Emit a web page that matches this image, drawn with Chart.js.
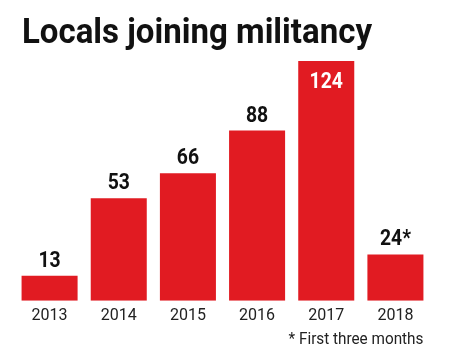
<!DOCTYPE html>
<html><head><meta charset="utf-8">
<script src="https://cdn.jsdelivr.net/npm/chart.js@4.4.1/dist/chart.umd.min.js"></script>
<style>html,body{margin:0;padding:0;background:#fff}canvas{display:block}</style>
</head><body>
<canvas id="c" width="450" height="360"></canvas>
<script>
const categories = ['2013','2014','2015','2016','2017','2018'];
const values = [13, 53, 66, 88, 124, 24];
const valueLabels = ['13','53','66','88','124','24*'];
const titleText = 'Locals joining militancy';
const footnote = '* First three months';

function condensedText(ctx, text, x, y, font, scaleX, align) {
  ctx.save();
  ctx.font = font;
  ctx.textBaseline = 'alphabetic';
  ctx.textAlign = 'left';
  const w = ctx.measureText(text).width * scaleX;
  let left = x;
  if (align === 'center') left = x - w / 2;
  else if (align === 'right') left = x - w;
  ctx.translate(left, y);
  ctx.scale(scaleX, 1);
  ctx.fillText(text, 0, 0);
  ctx.restore();
}

const textPlugin = {
  id: 'texts',
  afterDatasetsDraw(chart) {
    const ctx = chart.ctx;
    const meta = chart.getDatasetMeta(0);
    // title, fitted to its width in the reference
    ctx.save();
    ctx.font = 'bold 35px Roboto, sans-serif';
    const tw = ctx.measureText(titleText).width;
    ctx.restore();
    ctx.fillStyle = '#111111';
    condensedText(ctx, titleText, 22, 43, 'bold 35px Roboto, sans-serif', 350 / tw, 'left');
    // value labels
    meta.data.forEach((bar, i) => {
      const inside = i === 4;
      ctx.fillStyle = inside ? '#ffffff' : '#111111';
      const y = inside ? bar.y + 27 : bar.y - 9;
      condensedText(ctx, valueLabels[i], bar.x, y, 'bold 22px Roboto, sans-serif', 0.88, 'center');
    });
    // footnote, right aligned with the last bar
    const last = meta.data[meta.data.length - 1];
    const right = last.x + last.width / 2;
    ctx.fillStyle = '#222222';
    condensedText(ctx, footnote, right, 344, '17px Roboto, sans-serif', 0.9, 'right');
  }
};

new Chart(document.getElementById('c'), {
  type: 'bar',
  data: {
    labels: categories,
    datasets: [{
      data: values,
      backgroundColor: '#e11b22',
      borderWidth: 0,
      categoryPercentage: 1,
      barPercentage: 0.81
    }]
  },
  options: {
    responsive: false,
    animation: false,
    layout: { padding: { left: 15, right: 20, top: 61, bottom: 28 } },
    plugins: {
      legend: { display: false },
      tooltip: { enabled: false },
      title: { display: false }
    },
    scales: {
      x: {
        grid: { display: false, drawTicks: false },
        border: { display: false },
        ticks: { color: '#222', font: { family: 'Roboto, sans-serif', size: 16 }, padding: 6 }
      },
      y: {
        display: false,
        min: 0,
        max: 124
      }
    }
  },
  plugins: [textPlugin]
});
</script>
</body></html>
